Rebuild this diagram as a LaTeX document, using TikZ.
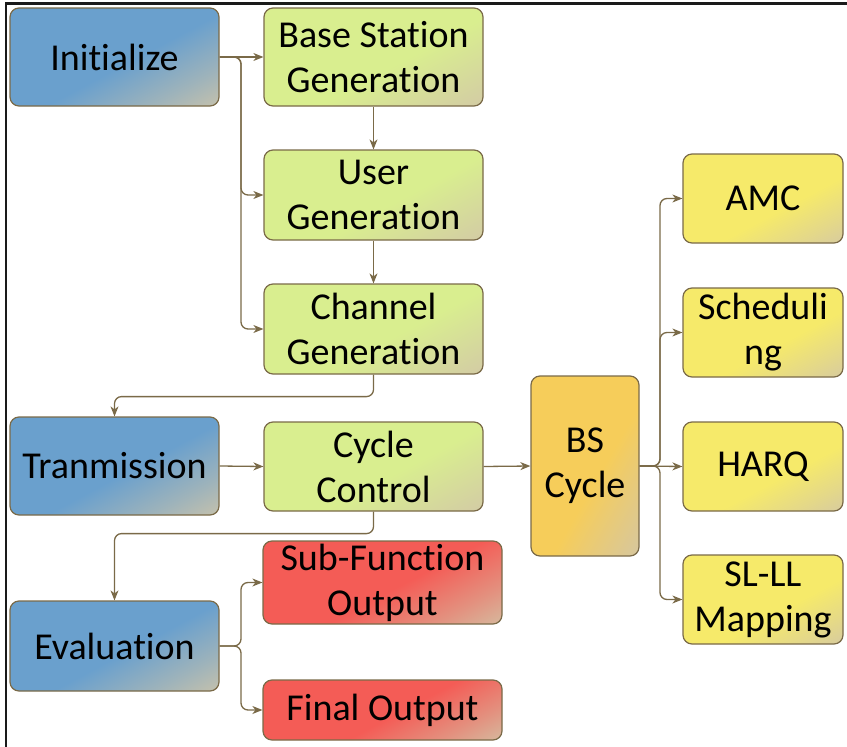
\documentclass[tikz,border=0pt]{standalone}
\usepackage{fontspec}
\setmainfont[Ligatures={NoCommon,NoRare,NoContextual}]{Carlito}
\usetikzlibrary{arrows.meta}
\definecolor{linec}{HTML}{7A6A48}
\definecolor{framec}{HTML}{1A1A1A}
\definecolor{bluec}{HTML}{6AA0CD}
\definecolor{greenc}{HTML}{D9EE8F}
\definecolor{yellowc}{HTML}{F6EA6A}
\definecolor{orangec}{HTML}{F6CD5A}
\definecolor{redc}{HTML}{F45C56}
\definecolor{endc}{HTML}{D2C6A8}
\pgfdeclarehorizontalshading{blueshade}{100bp}{color(0bp)=(bluec); color(54bp)=(bluec); color(72bp)=(bluec!50!endc); color(88bp)=(endc); color(100bp)=(endc)}
\pgfdeclarehorizontalshading{greenshade}{100bp}{color(0bp)=(greenc); color(56bp)=(greenc); color(72bp)=(greenc!50!endc); color(88bp)=(endc); color(100bp)=(endc)}
\pgfdeclarehorizontalshading{yellowshade}{100bp}{color(0bp)=(yellowc); color(58bp)=(yellowc); color(74bp)=(yellowc!50!endc); color(88bp)=(endc); color(100bp)=(endc)}
\pgfdeclarehorizontalshading{orangeshade}{100bp}{color(0bp)=(orangec); color(56bp)=(orangec); color(72bp)=(orangec!50!endc); color(88bp)=(endc); color(100bp)=(endc)}
\pgfdeclarehorizontalshading{redshade}{100bp}{color(0bp)=(redc); color(54bp)=(redc); color(72bp)=(redc!50!endc); color(88bp)=(endc); color(100bp)=(endc)}
\begin{document}
\begin{tikzpicture}[x=1pt,y=-1pt,
  box/.style={draw=linec, line width=1.2pt, rounded corners=9pt, inner sep=0pt, align=center,
    font=\fontsize{38}{45}\selectfont, shading angle=-62},
  bluebox/.style={box, shading=blueshade},
  greenbox/.style={box, shading=greenshade},
  yellowbox/.style={box, shading=yellowshade},
  orangebox/.style={box, shading=orangeshade, shading angle=-30},
  redbox/.style={box, shading=redshade},
  arr/.style={draw=linec, line width=1.3pt, rounded corners=7pt, -{Stealth[length=10pt,width=8pt,inset=3pt]}},
]
\useasboundingbox (0,0) rectangle (847,747);
\draw[framec, line width=2.2pt] (847,3.5) -- (6,3.5) -- (6,747);

\node[bluebox, minimum width=209pt, minimum height=98pt] (init) at (114.5,57) {Initialize};
\node[greenbox, minimum width=219pt, minimum height=98pt] (bsg) at (373.5,57) {Base Station\\Generation};
\node[greenbox, minimum width=219pt, minimum height=90pt] (user) at (373.5,195) {User\\Generation};
\node[greenbox, minimum width=219pt, minimum height=90pt] (chan) at (373.5,329) {Channel\\Generation};
\node[bluebox, minimum width=209pt, minimum height=98pt] (tran) at (114.5,466) {Tranmission};
\node[greenbox, minimum width=219pt, minimum height=89pt] (cyc) at (373.5,466.5) {Cycle\\Control};
\node[orangebox, minimum width=108pt, minimum height=180pt] (bsc) at (585,466) {BS\\Cycle};
\node[yellowbox, minimum width=160pt, minimum height=89pt] (amc) at (763,198.5) {AMC};
\node[yellowbox, minimum width=160pt, minimum height=89pt] (sch) at (763,332.5) {Scheduli\\ng};
\node[yellowbox, minimum width=160pt, minimum height=89pt] (harq) at (763,466.5) {HARQ};
\node[yellowbox, minimum width=160pt, minimum height=89pt] (sl) at (763,599.5) {SL-LL\\Mapping};
\node[bluebox, minimum width=209pt, minimum height=90pt] (eval) at (114.5,646) {Evaluation};
\node[redbox, minimum width=239pt, minimum height=83pt] (subf) at (382.5,582.5) {Sub-Function\\Output};
\node[redbox, minimum width=239pt, minimum height=60pt] (fin) at (382.5,710) {Final Output};

\coordinate (j1) at (241,57);
\coordinate (j2) at (660,466);
\coordinate (j3) at (241,646);

\draw[arr] (init.east) -- (bsg.west);
\draw[arr] (init.east) -- (j1) |- (user.west);
\draw[arr] (init.east) -- (j1) |- (chan.west);
\draw[arr] (bsg.south) -- (user.north);
\draw[arr] (user.south) -- (chan.north);
\draw[arr] (chan.south) -- ++(0,22) -| (tran.north);
\draw[arr] (tran.east) -- (cyc.west);
\draw[arr] (cyc.south) -- ++(0,22) -| (eval.north);
\draw[arr] (cyc.east) -- (bsc.west);
\draw[arr] (bsc.east) -- (j2) |- (amc.west);
\draw[arr] (bsc.east) -- (j2) |- (sch.west);
\draw[arr] (bsc.east) -- (harq.west);
\draw[arr] (bsc.east) -- (j2) |- (sl.west);
\draw[arr] (eval.east) -- (j3) |- (subf.west);
\draw[arr] (eval.east) -- (j3) |- (fin.west);
\end{tikzpicture}
\end{document}
